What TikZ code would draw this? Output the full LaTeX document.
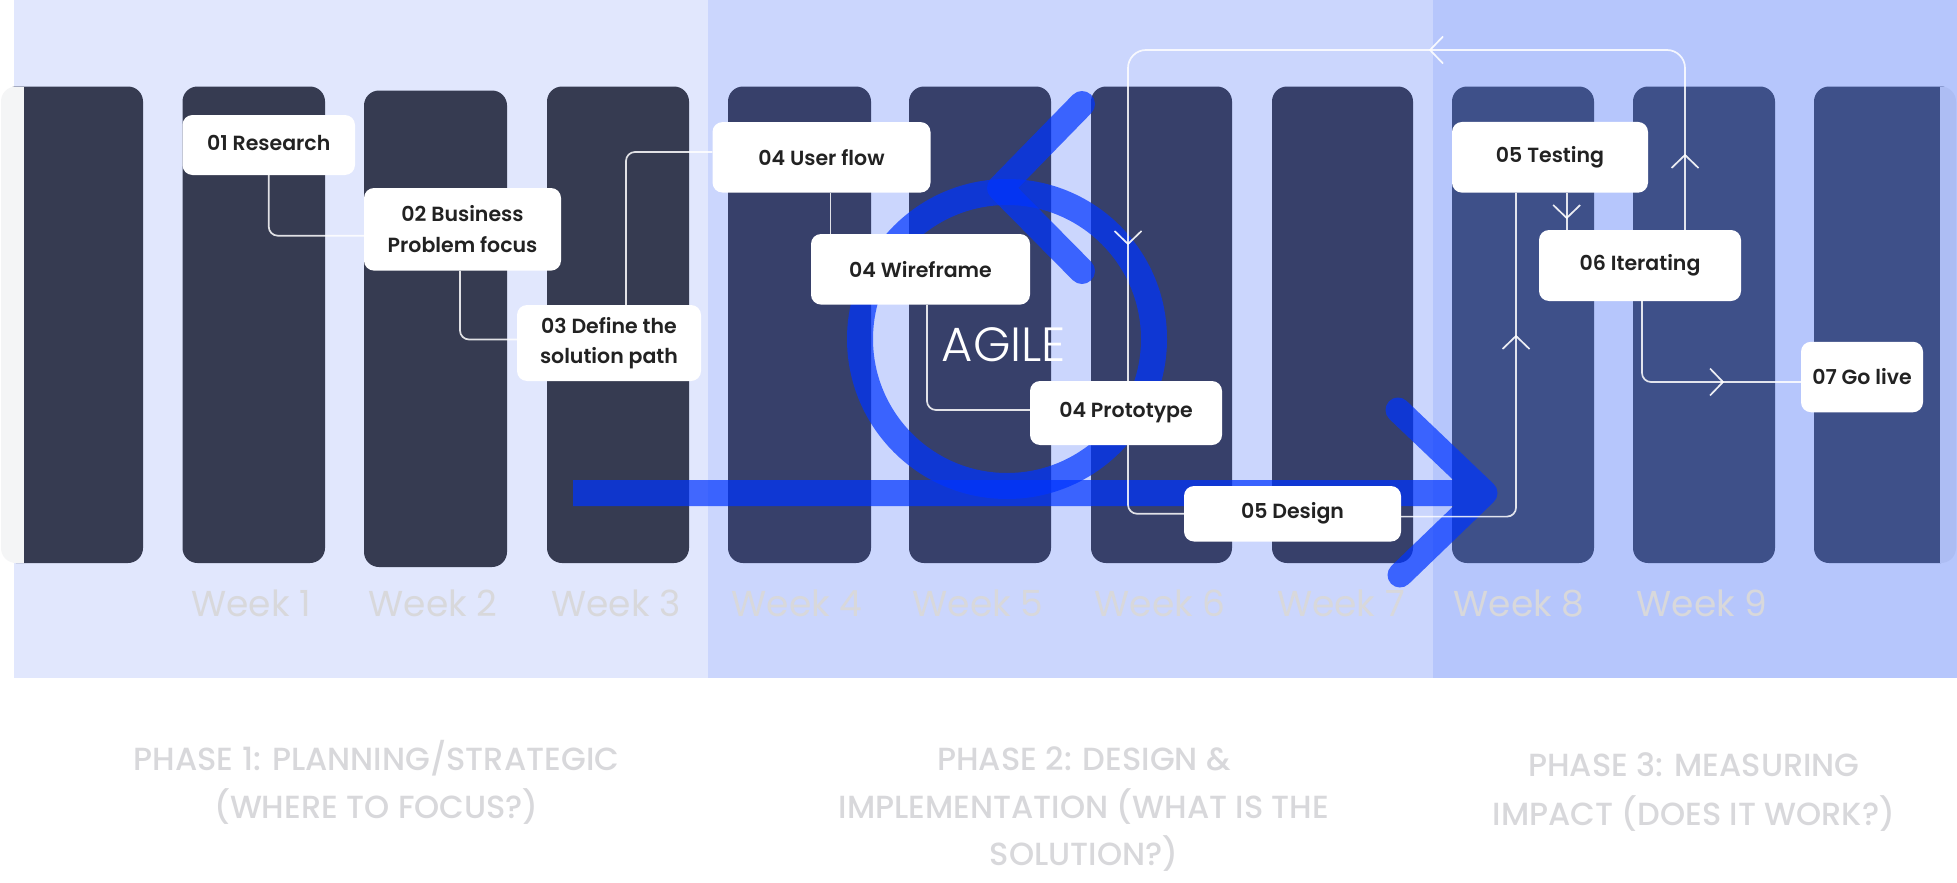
\documentclass[tikz,border=0pt]{standalone}
\usepackage{fontspec}
\setmainfont{Poppins}
\IfFontExistsTF{Poppins SemiBold}{\newfontfamily\boxfont{Poppins SemiBold}}{\newfontfamily\boxfont{Poppins}[FakeBold=3]}
\IfFontExistsTF{Poppins Medium}{\newfontfamily\phasefont{Poppins Medium}}{\newfontfamily\phasefont{Poppins}[FakeBold=2]}
\IfFontExistsTF{Poppins Light}{\newfontfamily\lightfont{Poppins Light}}{\newfontfamily\lightfont{Poppins}}
\usetikzlibrary{calc}
\definecolor{bgA}{HTML}{E1E7FD}
\definecolor{bgB}{HTML}{CBD6FD}
\definecolor{bgC}{HTML}{B6C6FC}
\definecolor{barA}{HTML}{363B51}
\definecolor{barB}{HTML}{37406A}
\definecolor{barC}{HTML}{3E5089}
\definecolor{agileblue}{HTML}{0034FF}
\definecolor{labelgrey}{HTML}{D8D8DB}
\definecolor{boxtext}{HTML}{222222}
\tikzset{
  phasebg/.style={fill=#1, draw=none},
  weekbar/.style={fill=#1, draw=none, rounded corners=15pt},
  box/.style={fill=white, draw=none, rounded corners=10pt, inner sep=0pt, align=center,
    text=boxtext, font=\boxfont\fontsize{20.5}{30.5}\selectfont},
  conn/.style={draw=white, draw opacity=0.85, line width=1.7pt, rounded corners=9pt},
  bluestroke/.style={draw=agileblue, line width=26pt, draw opacity=0.71},
  weeklabel/.style={anchor=base, text=labelgrey, inner sep=0pt, font=\fontsize{36}{40}\selectfont},
  phaselabel/.style={anchor=base, text=labelgrey, inner sep=0pt, font=\phasefont\fontsize{32}{40}\selectfont},
  chev/.pic={\draw[draw=white, draw opacity=0.9, line width=1.7pt] (-13,-13.5) -- (0,0) -- (-13,13.5);}
}
\begin{document}
\begin{tikzpicture}[x=1pt,y=-1pt]
\useasboundingbox (0,0) rectangle (1957,883);
\fill[white] (0,0) rectangle (1957,883);
% phase backgrounds
\fill[phasebg=bgA] (14,0) rectangle (708,678);
\fill[phasebg=bgB] (708,0) rectangle (1433,678);
\fill[phasebg=bgC] (1433,0) rectangle (1957,678);
% week bars
\fill[weekbar=barA] (1,86.5) rectangle (143,563);
\fill[white, opacity=0.95] (0,86.5) rectangle (23.5,563);
\fill[weekbar=barA] (182.5,86.5) rectangle (325,563);
\fill[weekbar=barA] (364,90.5) rectangle (507,567);
\fill[weekbar=barA] (547,86.5) rectangle (689,563);
\fill[weekbar=barB] (728,86.5) rectangle (871,563);
\fill[weekbar=barB] (909,86.5) rectangle (1051,563);
\fill[weekbar=barB] (1091,86.5) rectangle (1232,563);
\fill[weekbar=barB] (1272,86.5) rectangle (1413,563);
\fill[weekbar=barC] (1452,86.5) rectangle (1594,563);
\fill[weekbar=barC] (1633,86.5) rectangle (1775,563);
\fill[weekbar=barC] (1814,86.5) rectangle (1956,563);
\fill[bgC, opacity=0.93] (1940,86.5) rectangle (1957,563);
% week labels
\node[weeklabel] (w1) at (251,616.7) {Week 1};
\node[weeklabel] (w2) at (433,616.7) {Week 2};
\node[weeklabel] (w3) at (616,616.7) {Week 3};
\node[weeklabel] (w4) at (797,616.7) {Week 4};
\node[weeklabel] (w5) at (978,616.7) {Week 5};
\node[weeklabel] (w6) at (1160,616.7) {Week 6};
\node[weeklabel] (w7) at (1341,616.7) {Week 7};
\node[weeklabel] (w8) at (1519,616.7) {Week 8};
\node[weeklabel] (w9) at (1702,616.7) {Week 9};
% phase labels
\node[phaselabel] (p1a) at (376.5,770) {PHASE 1: PLANNING/STRATEGIC};
\node[phaselabel] (p1b) at (376.5,818) {(WHERE TO FOCUS?)};
\node[phaselabel] (p2a) at (1084,770) {PHASE 2: DESIGN \&};
\node[phaselabel] (p2b) at (1084,818) {IMPLEMENTATION (WHAT IS THE};
\node[phaselabel] (p2c) at (1084,865) {SOLUTION?)};
\node[phaselabel] (p3a) at (1694,776) {PHASE 3: MEASURING};
\node[phaselabel] (p3b) at (1694,825) {IMPACT (DOES IT WORK?)};
% agile ring
\draw[bluestroke] (1007,339) circle[radius=147];
\draw[bluestroke, line cap=round, line join=round] (1082,104) -- (1000,188) -- (1082,271);
% big arrow
\begin{scope}[transparency group, opacity=0.71]
\draw[draw=agileblue, line width=26pt] (573,493) -- (1472,493);
\draw[draw=agileblue, line width=25pt, line cap=round, line join=round] (1398,410) -- (1485,493) -- (1400,575);
\end{scope}
% boxes
\node[box, minimum width=172.5, minimum height=60] (r1) at (268.75,145) {\raisebox{3.5pt}{01 Research}};
\node[box, minimum width=197, minimum height=82.6] (r2) at (462.5,229.3) {02 Business\\Problem focus};
\node[box, minimum width=184, minimum height=76] (r3) at (609,343) {03 Define the\\solution path};
\node[box, minimum width=218, minimum height=70.5] (uf) at (821.5,157.3) {04 User flow};
\node[box, minimum width=219, minimum height=70.6] (wf) at (920.5,269.3) {04 Wireframe};
\node[box, minimum width=192, minimum height=64] (pt) at (1126,413) {04 Prototype};
\node[box, minimum width=217, minimum height=55.5] (d5) at (1292.5,513.75) {05 Design};
\node[box, minimum width=196, minimum height=70.7] (t5) at (1550,157.3) {05 Testing};
\node[box, minimum width=202, minimum height=71] (i6) at (1640,265.5) {06 Iterating};
\node[box, minimum width=122, minimum height=70.5] (g7) at (1862,377) {07 Go live};
% connectors
\coordinate (looptop) at (1400,50);
\draw[conn] (r1.south) |- ([yshift=-6.4pt]r2.west);
\draw[conn] ([xshift=-2.5pt]r2.south) |- ([yshift=3.5pt]r3.west);
\draw[conn] ([xshift=17pt]r3.north) |- ([yshift=5.3pt]uf.west);
\draw[conn] ([xshift=9pt]uf.south) -- ([xshift=9pt]uf.south |- wf.north);
\draw[conn] ([xshift=6.5pt]wf.south) |- ([yshift=3pt]pt.west);
\draw[conn] ([xshift=2pt]pt.south) |- (d5.west);
\draw[conn] ([yshift=-2.85pt]d5.east) -| ([xshift=-34pt]t5.south);
\draw[conn] ([xshift=16.7pt]t5.south) -- ([xshift=16.7pt]t5.south |- i6.north);
\draw[conn, rounded corners=18pt] ([xshift=45pt]i6.north) |- (looptop) -| ([xshift=2pt]pt.north);
\draw[conn] ([xshift=2pt]i6.south) |- ([yshift=-5pt]g7.west);
% chevrons on connectors
\pic[rotate=90] at (1685,155) {chev};
\pic[rotate=180] at (1430,50) {chev};
\pic[rotate=-90] at (1128,244) {chev};
\pic[rotate=-90] at (1566.7,218) {chev};
\pic[rotate=90] at (1516,336) {chev};
\pic at (1723,382) {chev};
% agile text
\node[anchor=base, text=white, inner sep=0pt, font=\lightfont\fontsize{48}{50}\selectfont] (agile) at (1004,361.7) {AGILE};
\end{tikzpicture}
\end{document}
